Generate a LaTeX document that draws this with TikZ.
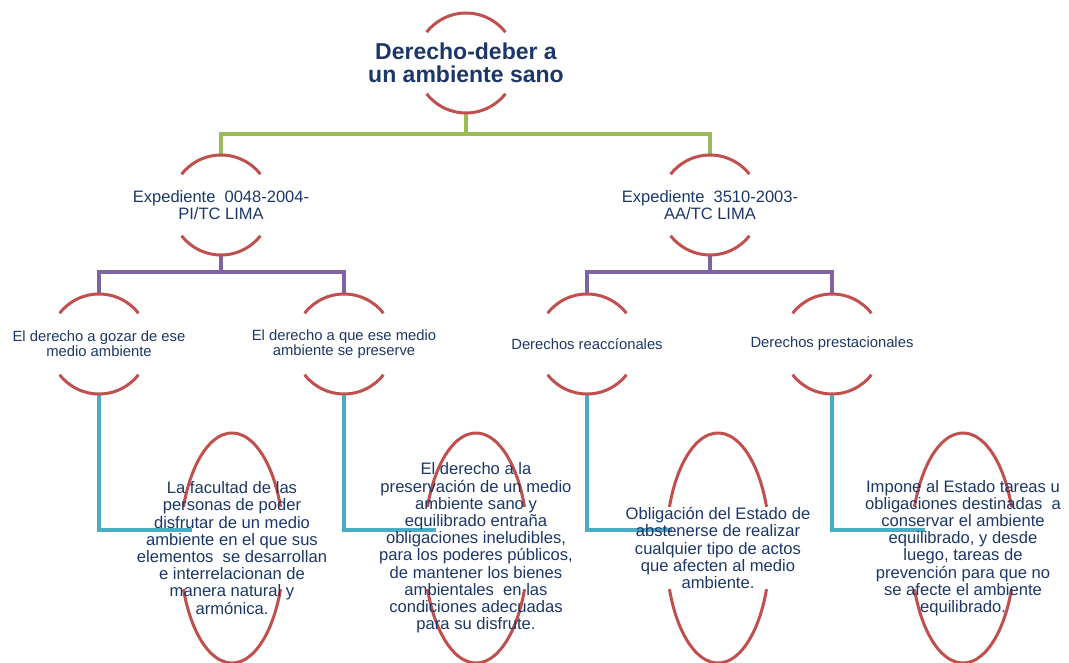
\documentclass[tikz,border=0pt]{standalone}
\usepackage{fontspec}
\setmainfont{Liberation Sans}
\usepackage{xcolor}
\usepackage{tikz}
\usetikzlibrary{shapes.geometric}
\definecolor{ink}{HTML}{1C3767}
\definecolor{rimred}{HTML}{C0504D}
\definecolor{lgreen}{HTML}{9BBB59}
\definecolor{lpurple}{HTML}{8064A2}
\definecolor{laqua}{HTML}{4BACC6}
\tikzset{
  hub/.style={circle, minimum size=100pt, inner sep=0pt, outer sep=0pt},
  oval/.style={ellipse, minimum width=104pt, minimum height=230pt, inner sep=0pt, outer sep=0pt},
  rim/.style={draw=rimred, line width=3pt},
  lnkg/.style={draw=lgreen, line width=3.2pt},
  lnkp/.style={draw=lpurple, line width=3.2pt},
  lnkc/.style={draw=laqua, line width=3.2pt},
  ttl/.style={text=ink, align=center, font=\fontsize{23}{22.5}\selectfont\bfseries},
  exptxt/.style={text=ink, align=center, font=\fontsize{16.5}{16.7}\selectfont},
  dertxt/.style={text=ink, align=center, font=\fontsize{14.8}{15}\selectfont},
  obltxt/.style={text=ink, align=center, font=\fontsize{16.6}{17.2}\selectfont},
}
% top and bottom arcs of a ring / an oval
\newcommand{\rimarcs}[1]{%
  \draw[rim] (#1.38) arc[start angle=38,end angle=142,radius=50];
  \draw[rim] (#1.-38) arc[start angle=-38,end angle=-142,radius=50];}
\newcommand{\ovalarcs}[1]{%
  \draw[rim] ([shift={(21:52 and 115)}]#1.center) arc[start angle=21,end angle=159,x radius=52,y radius=115];
  \draw[rim] ([shift={(201:52 and 115)}]#1.center) arc[start angle=201,end angle=339,x radius=52,y radius=115];}

\begin{document}
\begin{tikzpicture}[x=1pt,y=1pt]
  \useasboundingbox (0,0) rectangle (1069,-663);

  \node[hub] (root) at (466,-63) {};
  \node[hub] (exp1) at (221,-205) {};
  \node[hub] (exp2) at (710,-205) {};
  \node[hub] (der1) at (99,-344) {};
  \node[hub] (der2) at (344,-344) {};
  \node[hub] (der3) at (587,-344) {};
  \node[hub] (der4) at (832,-344) {};
  \node[oval] (obl1) at (232,-548) {};
  \node[oval] (obl2) at (476,-548) {};
  \node[oval] (obl3) at (718,-548) {};
  \node[oval] (obl4) at (963,-548) {};

  % connectors
  \draw[lnkg] (root.south) -- ++(0,-21) -| (exp1.north);
  \draw[lnkg] (root.south) ++(0,-21) -| (exp2.north);
  \draw[lnkp] (exp1.south) -- ++(0,-17) -| (der1.north);
  \draw[lnkp] (exp1.south) ++(0,-17) -| (der2.north);
  \draw[lnkp] (exp2.south) -- ++(0,-17) -| (der3.north);
  \draw[lnkp] (exp2.south) ++(0,-17) -| (der4.north);
  \draw[lnkc] (der1.south) |- ([shift={(-40,18)}]obl1.center);
  \draw[lnkc] (der2.south) |- ([shift={(-40,18)}]obl2.center);
  \draw[lnkc] (der3.south) |- ([shift={(-46,18)}]obl3.center);
  \draw[lnkc] (der4.south) |- ([shift={(-38,18)}]obl4.center);

  % rings
  \rimarcs{root}
  \rimarcs{exp1} \rimarcs{exp2}
  \rimarcs{der1} \rimarcs{der2} \rimarcs{der3} \rimarcs{der4}
  \ovalarcs{obl1} \ovalarcs{obl2} \ovalarcs{obl3} \ovalarcs{obl4}

  % texts
  \node[ttl] (root-t) at (root) {Derecho-deber a\\un ambiente sano};
  \node[exptxt] (exp1-t) at (exp1) {Expediente\ \ 0048-2004-\\PI/TC LIMA};
  \node[exptxt] (exp2-t) at (exp2) {Expediente\ \ 3510-2003-\\AA/TC LIMA};
  \node[dertxt] (der1-t) at (der1) {El derecho a gozar de ese\\medio ambiente};
  \node[dertxt] (der2-t) at (der2) {El derecho a que ese medio\\ambiente se preserve};
  \node[dertxt] (der3-t) at (der3) {Derechos reaccíonales};
  \node[dertxt] (der4-t) at (der4) {Derechos prestacionales};
  \node[obltxt] (obl1-t) at (obl1) {La facultad de las\\personas de poder\\disfrutar de un medio\\ambiente en el que sus\\elementos\ \ se desarrollan\\e interrelacionan de\\manera natural y\\armónica.};
  \node[obltxt] (obl2-t) at (obl2) {El derecho a la\\preservación de un medio\\ambiente sano y\\equilibrado entraña\\obligaciones ineludibles,\\para los poderes públicos,\\de mantener los bienes\\ambientales\ \ en las\\condiciones adecuadas\\para su disfrute.};
  \node[obltxt] (obl3-t) at (obl3) {Obligación del Estado de\\abstenerse de realizar\\cualquier tipo de actos\\que afecten al medio\\ambiente.};
  \node[obltxt] (obl4-t) at (obl4) {Impone al Estado tareas u\\obligaciones destinadas\ \ a\\conservar el ambiente\\equilibrado, y desde\\luego, tareas de\\prevención para que no\\se afecte el ambiente\\equilibrado.};
\end{tikzpicture}
\end{document}
